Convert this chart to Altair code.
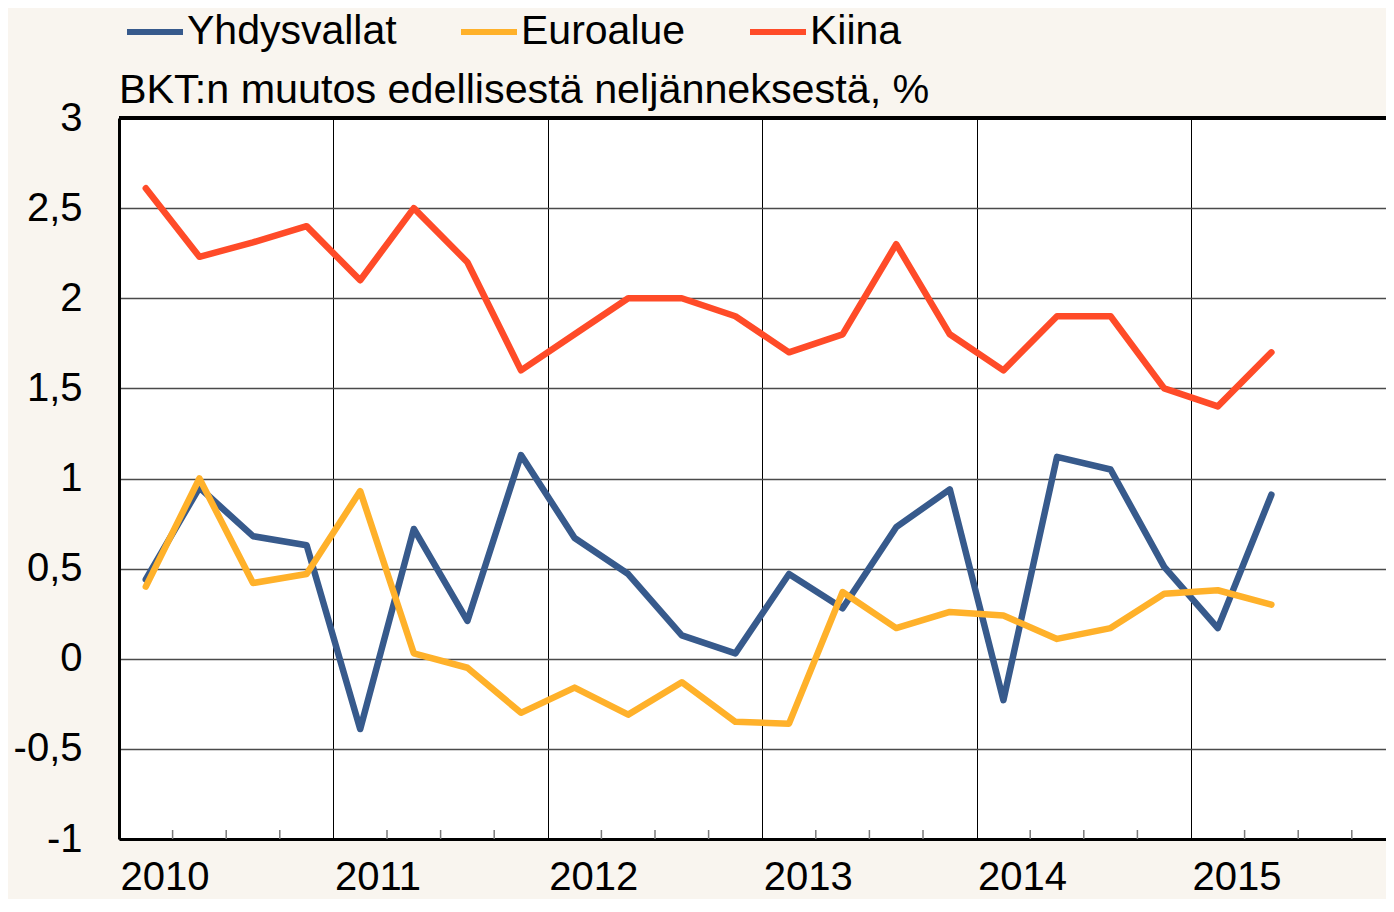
import altair as alt
import pandas as pd

quarters = [f"{y}Q{q}" for y in range(2010, 2016) for q in range(1, 5)][:22]
series_names = ["Yhdysvallat", "Euroalue", "Kiina"]
series_colors = ["#375a8c", "#ffb12a", "#ff4b28"]
yhdysvallat = [0.44, 0.95, 0.68, 0.63, -0.39, 0.72, 0.21, 1.13, 0.67, 0.47, 0.13, 0.03,
               0.47, 0.28, 0.73, 0.94, -0.23, 1.12, 1.05, 0.51, 0.17, 0.91]
euroalue = [0.40, 1.00, 0.42, 0.47, 0.93, 0.03, -0.05, -0.30, -0.16, -0.31, -0.13, -0.35,
            -0.36, 0.37, 0.17, 0.26, 0.24, 0.11, 0.17, 0.36, 0.38, 0.30]
kiina = [2.61, 2.23, 2.31, 2.40, 2.10, 2.50, 2.20, 1.60, 1.80, 2.00, 2.00, 1.90,
         1.70, 1.80, 2.30, 1.80, 1.60, 1.90, 1.90, 1.50, 1.40, 1.70]
year_ticks = [2010, 2011, 2012, 2013, 2014, 2015]
y_ticks = [-1, -0.5, 0, 0.5, 1, 1.5, 2, 2.5, 3]
title_text = "BKT:n muutos edellisestä neljänneksestä, %"

FONT = "Liberation Sans"
W, H = 1267, 721


def qpos(q):
    return int(q[:4]) + (int(q[-1]) - 0.5) / 4


rows = []
for name, vals in zip(series_names, [yhdysvallat, euroalue, kiina]):
    for q, v in zip(quarters, vals):
        rows.append({"sarja": name, "q": q, "t": qpos(q), "arvo": v, "ord": series_names.index(name)})
df = pd.DataFrame(rows)

minor = pd.DataFrame({"t": [y + k / 4 for y in year_ticks for k in (1, 2, 3)]})

xscale = alt.Scale(domain=[2010, 2010 + W / 214.4], nice=False, zero=False)
yscale = alt.Scale(domain=[-1, 3], nice=False, zero=False)

lines = alt.Chart(df).mark_line(strokeWidth=6.5, strokeCap="round", strokeJoin="round").encode(
    x=alt.X("t:Q", scale=xscale,
            axis=alt.Axis(values=year_ticks, grid=True, gridColor="#000000", gridWidth=1,
                          domain=True, domainColor="#000000", domainWidth=3, ticks=False,
                          labelExpr="datum.value + ''", labelFontSize=40, labelFont=FONT,
                          labelColor="#000000", labelAlign="left", labelOffset=1,
                          labelPadding=18, title=None, labelFlush=False)),
    y=alt.Y("arvo:Q", scale=yscale,
            axis=alt.Axis(values=y_ticks, grid=True, gridColor="#4a4a4a", gridWidth=1.5,
                          domain=True, domainColor="#000000", domainWidth=3, ticks=False,
                          labelExpr="replace(datum.value + '', '.', ',')", labelFontSize=40,
                          labelFont=FONT, labelColor="#000000", labelPadding=37, title=None)),
    color=alt.Color("sarja:N", scale=alt.Scale(domain=series_names, range=series_colors),
                    legend=alt.Legend(orient="none", legendX=5, legendY=-117, direction="horizontal",
                                      title=None, symbolType="stroke", symbolSize=3136,
                                      symbolStrokeWidth=6, labelFontSize=41, labelFont=FONT,
                                      labelColor="#000000", columnPadding=52, labelOffset=1,
                                      labelLimit=500, padding=0)),
    order=alt.Order("ord:Q"),
    detail="sarja:N",
)

ticks = alt.Chart(minor).mark_rule(color="#7a7a7a", strokeWidth=1.5).encode(
    x=alt.X("t:Q", scale=xscale),
    y=alt.datum(-1),
    y2=alt.datum(-0.95),
)

top = alt.Chart(minor).mark_rule(color="#000000", strokeWidth=2.5).encode(
    y=alt.datum(3),
    x=alt.value(0),
    x2=alt.value(W),
)

title = alt.Chart(pd.DataFrame({"txt": [title_text]})).mark_text(
    align="left", baseline="alphabetic", fontSize=41.3, font=FONT, color="#000000"
).encode(text="txt:N", x=alt.value(0), y=alt.value(-15))

chart = alt.layer(ticks, top, lines, title).properties(
    width=W,
    height=H,
    autosize=alt.AutoSizeParams(type="none"),
    padding={"left": 111, "top": 110, "right": 0, "bottom": 60},
    background="#f9f5ef",
).configure_view(fill="#ffffff", stroke=None)

chart.save("out.html", embed_options={"renderer": "svg", "actions": False})
